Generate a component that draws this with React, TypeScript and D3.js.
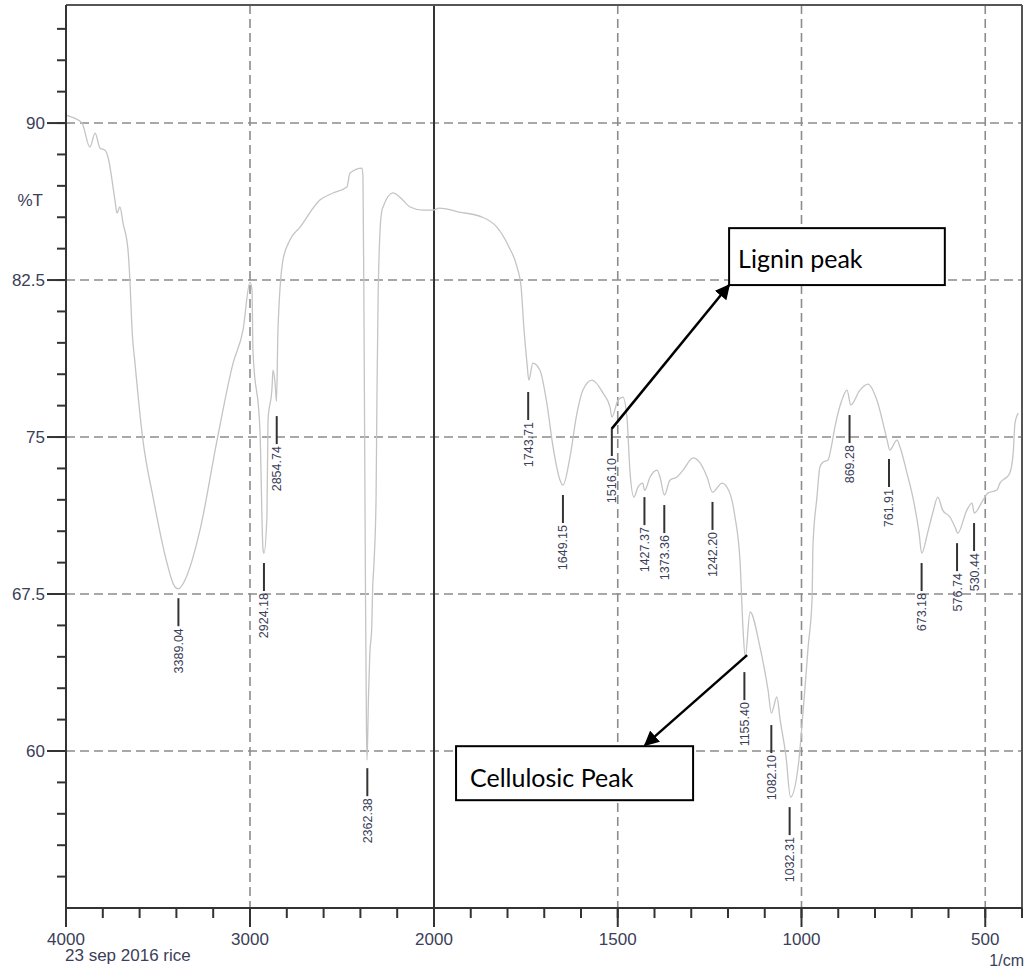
import React from "react";
import * as d3 from "d3";

// spectrum: wavenumber (1/cm) and %T
const waveNumbers = [
  4000, 3958, 3913, 3870, 3842, 3815, 3788, 3772, 3734, 3723, 3707, 3690, 3663, 3652, 3641, 3625,
  3582, 3527, 3451, 3415, 3390, 3360, 3342, 3272, 3179, 3092, 3038, 3000, 2989, 2984, 2946, 2929,
  2924, 2908, 2902, 2880, 2875, 2864, 2856, 2848, 2821, 2783, 2728, 2620, 2549, 2473, 2457, 2391,
  2386, 2380, 2373, 2367, 2364, 2356, 2349, 2338, 2334, 2326, 2315, 2310, 2304, 2293, 2283, 2277,
  2223, 2185, 2130, 2060, 2005, 1986, 1932, 1869, 1829, 1796, 1774, 1763, 1755, 1747, 1742, 1731,
  1712, 1693, 1676, 1657, 1649, 1630, 1611, 1595, 1570, 1540, 1521, 1516, 1499, 1486, 1475, 1467,
  1456, 1445, 1432, 1427, 1412, 1393, 1385, 1373, 1358, 1339, 1322, 1295, 1276, 1257, 1242, 1216,
  1195, 1181, 1167, 1159, 1153, 1140, 1113, 1091, 1082, 1067, 1058, 1042, 1030, 1008, 996, 982,
  971, 969, 958, 950, 942, 928, 917, 909, 890, 876, 866, 841, 819, 795, 767, 760,
  740, 732, 713, 697, 680, 673, 657, 643, 629, 616, 596, 580, 575, 550, 536, 530,
  506, 493, 468, 460, 441, 433, 424, 419, 410,
];
const transmittance = [
  90.38, 90.25, 90.0, 88.85, 89.52, 88.8, 88.7, 88.38, 86.32, 85.7, 85.99, 85.22, 83.93, 82.36, 80.11, 78.53,
  74.85, 72.13, 68.98, 67.95, 67.75, 68.05, 68.4, 70.55, 74.85, 78.53, 80.11, 82.4, 82.02, 79.15, 75.33, 69.6,
  69.45, 71.18, 75.81, 77.39, 78.2, 77.6, 76.7, 80.11, 83.45, 84.41, 85.03, 86.32, 86.66, 86.94, 87.61, 87.85,
  87.4, 80, 68.5, 61, 59.56, 62.6, 64.6, 66.0, 67.6, 69.0, 72, 77, 81.5, 84.9, 85.84, 85.99,
  86.66, 86.46, 85.99, 85.84, 85.84, 85.94, 85.75, 85.51, 85.03, 84.08, 83.12, 82.16, 80.11, 78.53, 77.72, 78.53,
  78.2, 76.62, 74.52, 72.94, 72.7, 74.04, 76.14, 77.24, 77.72, 77.1, 76.43, 75.95, 76.77, 76.91, 75.95, 73.42,
  72.13, 72.61, 72.8, 72.45, 73.09, 73.42, 73.09, 72.23, 72.94, 73.09, 73.42, 74.0, 73.76, 73.09, 72.37, 72.8,
  72.32, 71.18, 68.98, 65.78, 64.49, 66.64, 64.96, 62.91, 61.81, 62.58, 61.48, 59.71, 57.8, 59.42, 61.81, 64.96,
  67.35, 69.74, 72.13, 73.56, 73.8, 73.9, 74.71, 75.48, 76.77, 77.24, 76.53, 77.24, 77.53, 76.77, 74.85, 74.38,
  74.85, 74.52, 73.28, 72.13, 70.41, 69.45, 70.41, 71.37, 72.13, 71.51, 71.18, 70.6, 70.4, 71.51, 71.84, 71.37,
  71.99, 72.32, 72.47, 72.8, 73.09, 73.28, 74.23, 75.67, 76.14,
];

// picked peaks: position, printed label, %T where the marker starts
const peakWaves = [3389.04, 2924.18, 2854.74, 2362.38, 1743.71, 1649.15, 1516.1, 1427.37, 1373.36, 1242.2, 1155.4, 1082.1, 1032.31, 869.28, 761.91, 673.18, 576.74, 530.44];
const peakLabels = ["3389.04", "2924.18", "2854.74", "2362.38", "1743.71", "1649.15", "1516.10", "1427.37", "1373.36", "1242.20", "1155.40", "1082.10", "1032.31", "869.28", "761.91", "673.18", "576.74", "530.44"];
const peakMarkTops = [67.3, 68.98, 76.0, 59.18, 77.15, 72.23, 75.43, 72.13, 71.75, 71.9, 63.77, 61.24, 57.32, 76.05, 73.95, 68.98, 69.93, 70.89];

const yTickLabels = [90, 82.5, 75, 67.5, 60];
const xTickLabels = [4000, 3000, 2000, 1500, 1000, 500];
const xGridDashed = [3000, 1500, 1000, 500];

// annotation boxes in data units: [wLeft, wRight, tTop, tBottom]
const ligninBox = [1197, 610, 84.98, 82.26];
const celluloseBox = [1940, 1295, 60.23, 57.65];
const ligninArrow = [1516.1, 75.4, 1197, 82.26];
const celluloseArrow = [1148, 64.58, 1426, 60.28];

const W = 1026, H = 970;
const left = 66, right = 1022, top = 5, bottom = 908;

export default function App() {
  const x = d3.scaleLinear().domain([4000, 2000, 400]).range([left, 434, right]);
  const y = d3.scaleLinear().domain([52.5, 95.64]).range([bottom, top]);

  const pts = waveNumbers.map((w, i) => [w, transmittance[i]]);
  const line = d3.line().x(d => x(d[0])).y(d => y(d[1])).curve(d3.curveMonotoneX);

  const minorY = d3.range(54, 95.6, 1.5);
  const minorX = d3.range(4000, 2000, -200).concat(d3.range(2000, 399, -100));

  const axisText = "#3b4058";
  const font = "'Liberation Sans', Arial, sans-serif";
  const noteFont = "Lato, 'Open Sans', sans-serif";

  const box = (b) => ({ x: x(b[0]), y: y(b[2]), w: x(b[1]) - x(b[0]), h: y(b[3]) - y(b[2]) });
  const lb = box(ligninBox), cb = box(celluloseBox);

  return (
    <svg width={W} height={H} style={{ position: "absolute", left: 0, top: 0, background: "#fff" }}>
      <defs>
        <marker id="arr" viewBox="0 0 10 10" refX="9" refY="5" markerWidth="6" markerHeight="6" orient="auto-start-reverse">
          <path d="M0,0 L10,5 L0,10 z" fill="#000" />
        </marker>
      </defs>

      {/* grid */}
      {yTickLabels.map(v => (
        <line key={"gy" + v} x1={left} x2={right} y1={y(v)} y2={y(v)} stroke="#8c8c8c" strokeWidth={1.6} strokeDasharray="9,5" />
      ))}
      {xGridDashed.map(v => (
        <line key={"gx" + v} x1={x(v)} x2={x(v)} y1={top} y2={bottom} stroke="#8c8c8c" strokeWidth={1.6} strokeDasharray="9,5" />
      ))}
      <line x1={x(2000)} x2={x(2000)} y1={top} y2={bottom} stroke="#333" strokeWidth={2} />

      {/* spectrum */}
      <path d={line(pts)} fill="none" stroke="#c4c4c4" strokeWidth={1.3} />

      {/* frame */}
      <line x1={left} x2={right} y1={top} y2={top} stroke="#555" strokeWidth={2} />
      <line x1={right} x2={right} y1={top} y2={bottom} stroke="#555" strokeWidth={2} />
      <line x1={left} x2={left} y1={top} y2={bottom} stroke="#333" strokeWidth={2} />
      <line x1={left} x2={right} y1={bottom} y2={bottom} stroke="#333" strokeWidth={2} />

      {/* y ticks */}
      {minorY.map(v => (
        <line key={"ty" + v} x1={left - 9} x2={left} y1={y(v)} y2={y(v)} stroke="#333" strokeWidth={2} />
      ))}
      {yTickLabels.map(v => (
        <g key={"ly" + v}>
          <line x1={left - 19} x2={left} y1={y(v)} y2={y(v)} stroke="#333" strokeWidth={2} />
          <text x={45} y={y(v)} dy="0.36em" textAnchor="end" fontFamily={font} fontSize={17} fill={axisText}>{v}</text>
        </g>
      ))}
      <text x={43} y={200} dy="0.36em" textAnchor="end" fontFamily={font} fontSize={17} fill={axisText}>%T</text>

      {/* x ticks */}
      {minorX.map(v => (
        <line key={"tx" + v} x1={x(v)} x2={x(v)} y1={bottom} y2={bottom + 10} stroke="#333" strokeWidth={2} />
      ))}
      {xTickLabels.map(v => (
        <g key={"lx" + v}>
          <line x1={x(v)} x2={x(v)} y1={bottom} y2={bottom + 19} stroke="#333" strokeWidth={2} />
          <text x={x(v)} y={945} textAnchor="middle" fontFamily={font} fontSize={17} fill={axisText}>{v}</text>
        </g>
      ))}
      <text x={1024} y={966} textAnchor="end" fontFamily={font} fontSize={16} fill={axisText}>1/cm</text>
      <text x={65} y={961} fontFamily={font} fontSize={17} fill={axisText}>23 sep 2016 rice</text>

      {/* peak markers */}
      {peakWaves.map((w, i) => {
        const px = x(w), py = y(peakMarkTops[i]);
        return (
          <g key={"pk" + i}>
            <line x1={px} x2={px} y1={py} y2={py + 28} stroke="#333" strokeWidth={2} />
            <text transform={`translate(${px},${py + 30}) rotate(-90)`} dy="0.36em" textAnchor="end"
              fontFamily={font} fontSize={12.5} fill={axisText}>{peakLabels[i]}</text>
          </g>
        );
      })}

      {/* annotations */}
      <line x1={x(ligninArrow[0])} y1={y(ligninArrow[1])} x2={x(ligninArrow[2])} y2={y(ligninArrow[3])}
        stroke="#000" strokeWidth={2.5} markerEnd="url(#arr)" />
      <line x1={x(celluloseArrow[0])} y1={y(celluloseArrow[1])} x2={x(celluloseArrow[2])} y2={y(celluloseArrow[3])}
        stroke="#000" strokeWidth={2.5} markerEnd="url(#arr)" />
      <rect x={lb.x} y={lb.y} width={lb.w} height={lb.h} fill="#fff" stroke="#000" strokeWidth={2} />
      <text x={lb.x + 9} y={lb.y + lb.h / 2 + 2} dy="0.36em" fontFamily={noteFont} fontSize={25} fill="#000">Lignin peak</text>
      <rect x={cb.x} y={cb.y} width={cb.w} height={cb.h} fill="#fff" stroke="#000" strokeWidth={2} />
      <text x={cb.x + 14} y={cb.y + cb.h / 2 + 5} dy="0.36em" fontFamily={noteFont} fontSize={25} fill="#000">Cellulosic Peak</text>
    </svg>
  );
}
